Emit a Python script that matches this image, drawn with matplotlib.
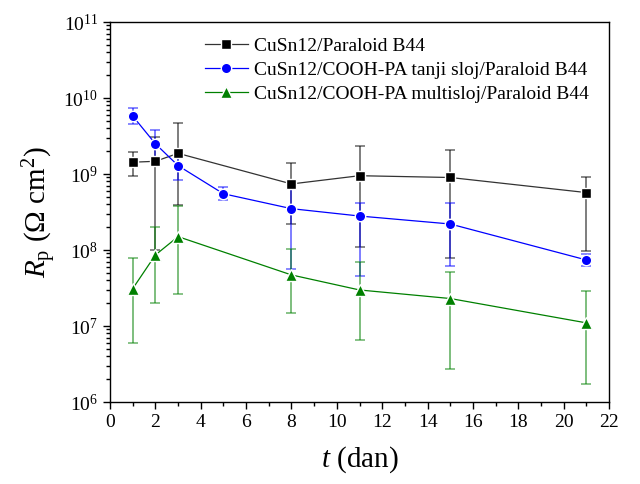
import matplotlib
matplotlib.use("Agg")
import matplotlib.pyplot as plt
import numpy as np
from matplotlib.ticker import LogLocator, MultipleLocator, NullFormatter

plt.rcParams['font.family'] = ['Liberation Serif', 'DejaVu Serif']
plt.rcParams['mathtext.fontset'] = 'custom'
plt.rcParams['mathtext.rm'] = 'Liberation Serif'
plt.rcParams['mathtext.it'] = 'Liberation Serif:italic'

labels = ["CuSn12/Paraloid B44",
          "CuSn12/COOH-PA tanji sloj/Paraloid B44",
          "CuSn12/COOH-PA multisloj/Paraloid B44"]

t_black = [1, 2, 3, 8, 11, 15, 21]
rp_black = [1.43e9, 1.47e9, 1.87e9, 7.4e8, 9.5e8, 9.0e8, 5.7e8]
hi_black = [1.96e9, 3.1e9, 4.7e9, 1.4e9, 2.35e9, 2.05e9, 9.2e8]
lo_black = [9.5e8, 1.0e8, 3.9e8, 2.2e8, 1.1e8, 7.9e7, 9.8e7]

t_blue = [1, 2, 3, 5, 8, 11, 15, 21]
rp_blue = [5.8e9, 2.5e9, 1.29e9, 5.5e8, 3.5e8, 2.8e8, 2.2e8, 7.4e7]
hi_blue = [7.3e9, 3.76e9, 1.8e9, 6.7e8, 6.4e8, 4.15e8, 4.2e8, 8.9e7]
lo_blue = [4.6e9, 1.7e9, 8.3e8, 4.6e8, 5.6e7, 4.6e7, 6.2e7, 6.2e7]

t_green = [1, 2, 3, 8, 11, 15, 21]
rp_green = [3.1e7, 8.6e7, 1.5e8, 4.7e7, 2.98e7, 2.3e7, 1.1e7]
hi_green = [7.85e7, 2.0e8, 3.8e8, 1.04e8, 7.0e7, 5.2e7, 2.86e7]
lo_green = [5.9e6, 2.0e7, 2.6e7, 1.5e7, 6.5e6, 2.7e6, 1.7e6]

fig = plt.figure(figsize=(6.4, 4.84), dpi=100)
ax = fig.add_axes([0.1719, 0.1694, 0.7797, 0.7851])

series = [
    (t_black, rp_black, lo_black, hi_black, 'black', '#333333', 's', 6.5),
    (t_blue, rp_blue, lo_blue, hi_blue, '#0000ff', '#0000ff', 'o', 7.5),
    (t_green, rp_green, lo_green, hi_green, '#008000', '#008000', '^', 8),
]

for (t, y, lo, hi, c, lc, m, ms), lab in zip(series, labels):
    y = np.array(y); lo = np.array(lo); hi = np.array(hi)
    yerr = np.vstack([y - lo, hi - y])
    ax.errorbar(t, y, yerr=yerr, fmt='none', ecolor=c, elinewidth=1.3,
                capsize=3.5, capthick=1.2, alpha=0.55, zorder=2)
    ax.plot(t, y, color=lc, lw=0.9, marker=m, ms=ms, mfc=c, mec='white',
            mew=1.0, label=lab, zorder=3)

ax.set_yscale('log')
ax.set_ylim(1e6, 1e11)
ax.set_xlim(0, 22)
ax.xaxis.set_major_locator(MultipleLocator(2))
ax.xaxis.set_minor_locator(MultipleLocator(1))
ax.yaxis.set_major_locator(LogLocator(base=10, numticks=20))
ax.yaxis.set_minor_locator(LogLocator(base=10, subs=np.arange(2, 10), numticks=20))
ax.yaxis.set_minor_formatter(NullFormatter())

ax.tick_params(which='both', direction='out', top=False, right=False, labelsize=14, width=1)
ax.tick_params(which='major', length=5)
ax.tick_params(which='minor', length=3)
for s in ax.spines.values():
    s.set_linewidth(1.0)

ax.set_xlabel(r'$t$ (dan)', fontsize=21, labelpad=10)
ax.set_ylabel(r'$R_{\rm p}$ ($\Omega$ cm$^{2}$)', fontsize=21, labelpad=3)

leg = ax.legend(loc='upper left', bbox_to_anchor=(0.167, 0.99), frameon=False,
                fontsize=14, handlelength=2.2, handletextpad=0.3,
                labelspacing=0.33, borderaxespad=0.2)

fig.savefig('out.png', dpi=100)
